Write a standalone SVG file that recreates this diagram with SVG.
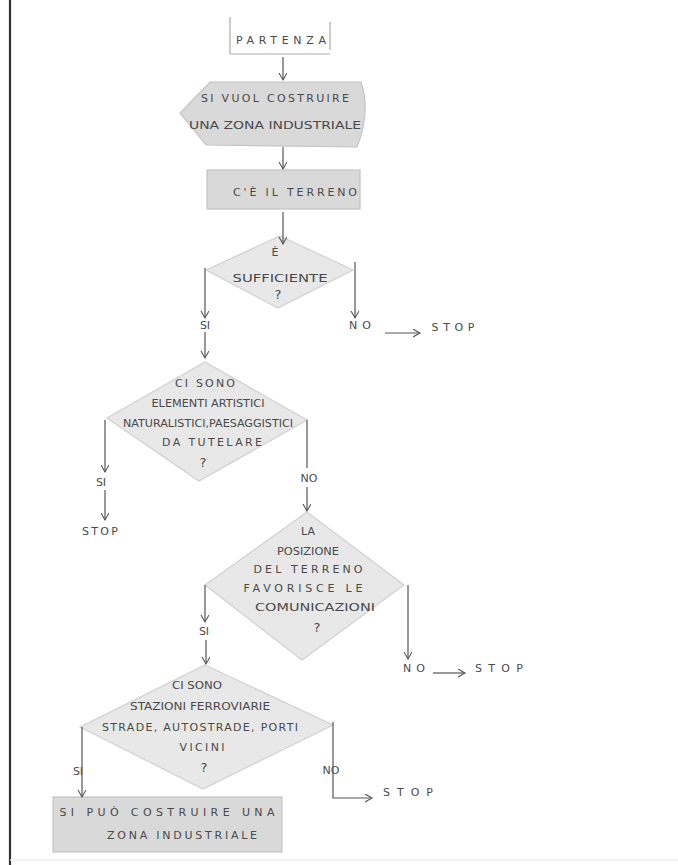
<svg xmlns="http://www.w3.org/2000/svg" width="678" height="865" viewBox="0 0 678 865">
<defs>
<marker id="ah" markerWidth="10" markerHeight="10" refX="7" refY="4" orient="auto" markerUnits="userSpaceOnUse">
<path d="M0,0 L7,4 L0,8" fill="none" stroke="#555" stroke-width="1.1"/>
</marker>
<style>
text{font-family:"DejaVu Sans","Liberation Sans",sans-serif;font-size:11px;fill:#4a4a4a;text-anchor:middle;dominant-baseline:central}
.q{font-size:13px}
.c{stroke:#555;stroke-width:1.2;fill:none}
.a{stroke:#555;stroke-width:1.2;fill:none;marker-end:url(#ah)}
.box{fill:#d9d9d9;stroke:#c4c4c4;stroke-width:1.2}
.dia{fill:#e8e8e8;stroke:#d0d0d0;stroke-width:1.2}
</style>
</defs>
<rect width="678" height="865" fill="#fff"/>
<line x1="10" y1="0" x2="10" y2="865" stroke="#333" stroke-width="2.2"/>
<line x1="10" y1="860" x2="678" y2="860" stroke="#ececec" stroke-width="1.5"/>

<g id="partenza">
<path d="M230,17 L230,54 L330,54 M330,22 L330,50" fill="none" stroke="#aaa" stroke-width="1.2"/>
<text x="281" y="40" textLength="90" lengthAdjust="spacing">PARTENZA</text>
</g>

<g id="vuol">
<path class="box" d="M210,82 L361,82 Q371,112 357,147 L206,145 L180,113 Z"/>
<text x="275" y="98" textLength="148" lengthAdjust="spacing">SI VUOL COSTRUIRE</text>
<text x="275" y="125" textLength="172" lengthAdjust="spacingAndGlyphs">UNA ZONA INDUSTRIALE</text>
</g>

<g id="terreno">
<rect class="box" x="207" y="170" width="153" height="39"/>
<text x="295" y="192" textLength="124" lengthAdjust="spacing">C'È IL TERRENO</text>
</g>

<g id="sufficiente">
<polygon class="dia" points="280,236 353,270 278,308 206,270"/>
<text x="275" y="252">È</text>
<text x="280" y="278" textLength="95" lengthAdjust="spacingAndGlyphs">SUFFICIENTE</text>
<text x="278" y="294" class="q">?</text>
</g>

<g id="elementi">
<polygon class="dia" points="205,362 307,420 199,481 107,418"/>
<text x="205" y="383" textLength="60" lengthAdjust="spacing">CI SONO</text>
<text x="208" y="403" textLength="113" lengthAdjust="spacingAndGlyphs">ELEMENTI ARTISTICI</text>
<text x="208" y="423" textLength="170" lengthAdjust="spacingAndGlyphs">NATURALISTICI,PAESAGGISTICI</text>
<text x="212" y="442" textLength="100" lengthAdjust="spacing">DA TUTELARE</text>
<text x="203" y="462" class="q">?</text>
</g>

<g id="posizione">
<polygon class="dia" points="307,512 404,585 302,660 205,585"/>
<text x="308" y="531">LA</text>
<text x="308" y="551" textLength="62" lengthAdjust="spacingAndGlyphs">POSIZIONE</text>
<text x="308" y="569" textLength="109" lengthAdjust="spacing">DEL TERRENO</text>
<text x="303" y="588" textLength="119" lengthAdjust="spacing">FAVORISCE LE</text>
<text x="315" y="607" textLength="120" lengthAdjust="spacingAndGlyphs">COMUNICAZIONI</text>
<text x="317" y="627" class="q">?</text>
</g>

<g id="stazioni">
<polygon class="dia" points="205,665 333,725 203,789 80,727"/>
<text x="197" y="685" textLength="50" lengthAdjust="spacingAndGlyphs">CI SONO</text>
<text x="200" y="706" textLength="140" lengthAdjust="spacingAndGlyphs">STAZIONI FERROVIARIE</text>
<text x="200" y="727" textLength="196" lengthAdjust="spacing">STRADE, AUTOSTRADE, PORTI</text>
<text x="202" y="747" textLength="45" lengthAdjust="spacing">VICINI</text>
<text x="204" y="767" class="q">?</text>
</g>

<g id="costruire">
<rect class="box" x="53" y="797" width="229" height="55"/>
<text x="167" y="812" textLength="215" lengthAdjust="spacing">SI PUÒ COSTRUIRE UNA</text>
<text x="182" y="835" textLength="150" lengthAdjust="spacing">ZONA INDUSTRIALE</text>
</g>

<g id="labels">
<text x="205" y="325">SI</text>
<text x="360" y="325" textLength="22" lengthAdjust="spacing">NO</text>
<text x="453" y="327" textLength="43" lengthAdjust="spacing">STOP</text>
<text x="101" y="482">SI</text>
<text x="100" y="531" textLength="36" lengthAdjust="spacing">STOP</text>
<text x="309" y="478">NO</text>
<text x="204" y="631">SI</text>
<text x="414" y="668" textLength="22" lengthAdjust="spacing">NO</text>
<text x="499" y="668" textLength="48" lengthAdjust="spacing">STOP</text>
<text x="78" y="771">SI</text>
<text x="331" y="770">NO</text>
<text x="408" y="792" textLength="50" lengthAdjust="spacing">STOP</text>
</g>

<g id="connectors">
<line class="a" x1="283" y1="57" x2="283" y2="80"/>
<line class="a" x1="283" y1="147" x2="283" y2="169"/>
<line class="a" x1="283" y1="212" x2="283" y2="244"/>
<line class="a" x1="205" y1="268" x2="205" y2="318"/>
<line class="a" x1="205" y1="332" x2="205" y2="358"/>
<line class="a" x1="355" y1="262" x2="355" y2="318"/>
<line class="a" x1="385" y1="333" x2="420" y2="333"/>
<line class="a" x1="105" y1="420" x2="105" y2="472"/>
<line class="a" x1="105" y1="490" x2="105" y2="520"/>
<line class="c" x1="307" y1="420" x2="307" y2="468"/>
<line class="a" x1="307" y1="487" x2="307" y2="511"/>
<line class="a" x1="205" y1="585" x2="205" y2="622"/>
<line class="a" x1="206" y1="640" x2="206" y2="664"/>
<line class="a" x1="408" y1="585" x2="408" y2="659"/>
<line class="a" x1="433" y1="673" x2="465" y2="673"/>
<line class="a" x1="82" y1="727" x2="82" y2="797"/>
<path class="a" d="M333,722 L333,798 L372,798"/>
</g>
</svg>
